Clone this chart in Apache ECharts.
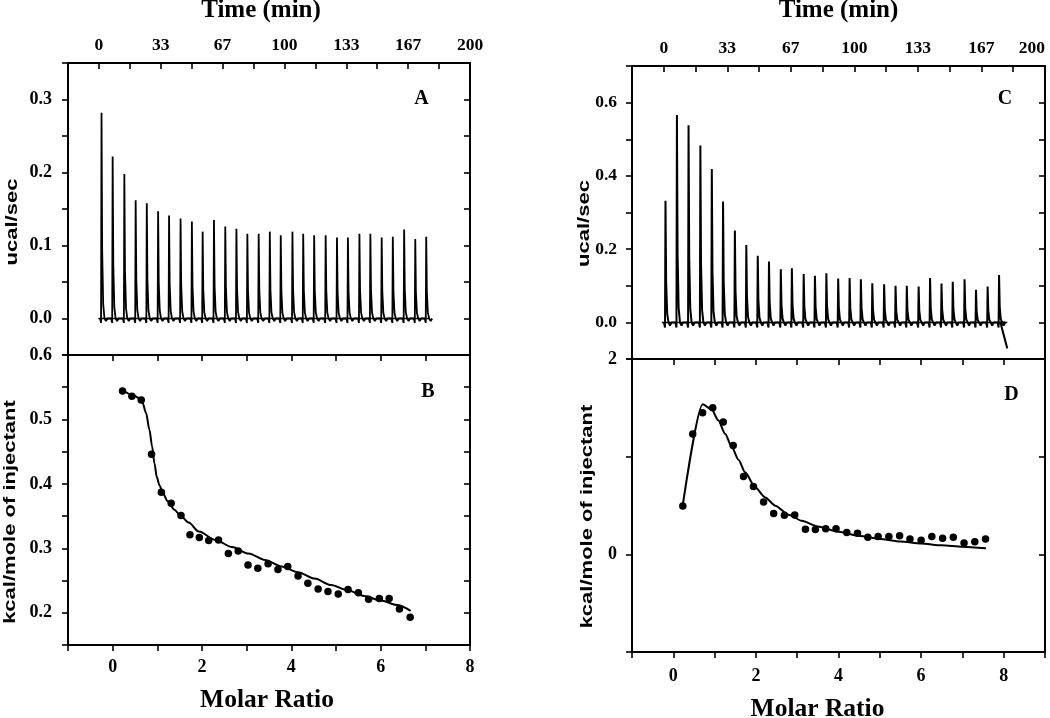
<!DOCTYPE html>
<html>
<head>
<meta charset="utf-8">
<script src="https://cdn.jsdelivr.net/npm/echarts@6/dist/echarts.min.js"></script>
<style>
html,body{margin:0;padding:0;background:#fff;}
#chart{width:1050px;height:718px;}
</style>
</head>
<body>
<div id="chart"></div>
<script>
// ---------- DATA ----------
// Time axis tick labels (min)
const timeTickValues = [0, 100/3, 200/3, 100, 400/3, 500/3, 200];
const timeTickLabels = ['0', '33', '67', '100', '133', '167', '200'];
const molarTickValues = [0, 2, 4, 6, 8];
const aYTickValues = [0, 0.1, 0.2, 0.3];
const bYTickValues = [0.2, 0.3, 0.4, 0.5, 0.6];
const cYTickValues = [0, 0.2, 0.4, 0.6];
const dYTickValues = [0, 2];

// Axis titles
const timeTitle = 'Time (min)';
const molarTitle = 'Molar Ratio';
const powerTitle = 'ucal/sec';
const heatTitle = 'kcal/mole of injectant';
const panelLetters = ['A', 'B', 'C', 'D'];

// Panel A: injection times (min) and peak heights (ucal/sec)
const aInjTimes = [1.4, 7.4, 13.7, 19.8, 25.8, 31.9, 37.8, 44.0, 50.1, 55.9, 62.0, 68.1, 74.1, 80.0, 86.1, 92.1, 98.0, 104.3, 110.1, 116.0, 122.2, 128.3, 134.2, 140.4, 146.3, 152.4, 158.4, 164.5, 170.5, 176.4];
const aPeaks = [0.282, 0.222, 0.198, 0.162, 0.158, 0.147, 0.141, 0.137, 0.133, 0.119, 0.135, 0.126, 0.123, 0.116, 0.116, 0.119, 0.114, 0.119, 0.116, 0.114, 0.114, 0.111, 0.111, 0.116, 0.116, 0.111, 0.112, 0.122, 0.109, 0.112];
const aBaseline = [[-0.3, 0], [178.3, 0]];

// Panel C: injection times (min) and peak heights (ucal/sec)
const cInjTimes = [0.9, 6.9, 13.0, 19.2, 25.2, 31.1, 37.3, 43.3, 49.3, 55.2, 61.4, 67.2, 73.4, 79.3, 85.3, 91.5, 97.5, 103.4, 109.4, 115.6, 121.6, 127.5, 133.7, 139.7, 145.7, 151.6, 157.8, 163.8, 169.9, 175.9];
const cPeaks = [0.332, 0.566, 0.538, 0.483, 0.419, 0.330, 0.251, 0.211, 0.182, 0.166, 0.145, 0.148, 0.132, 0.127, 0.134, 0.120, 0.121, 0.118, 0.107, 0.104, 0.100, 0.100, 0.098, 0.121, 0.106, 0.111, 0.118, 0.089, 0.098, 0.129];
const cTail = [[176.6, 0.0], [180.2, -0.071]];
const cBaseline = [[-1.0, 0], [180.2, 0]];

// Panel B: integrated heats (molar ratio, kcal/mole of injectant)
const bMolar = [0.22, 0.43, 0.64, 0.87, 1.09, 1.31, 1.53, 1.73, 1.94, 2.15, 2.37, 2.59, 2.81, 3.03, 3.25, 3.48, 3.70, 3.92, 4.15, 4.37, 4.60, 4.82, 5.05, 5.27, 5.50, 5.73, 5.97, 6.19, 6.42, 6.66];
const bHeat = [0.544, 0.536, 0.530, 0.446, 0.387, 0.370, 0.351, 0.321, 0.317, 0.312, 0.313, 0.292, 0.296, 0.274, 0.269, 0.276, 0.267, 0.272, 0.257, 0.246, 0.237, 0.233, 0.229, 0.236, 0.231, 0.221, 0.222, 0.222, 0.206, 0.193];
const bFitX = [0.21, 0.45, 0.60, 0.673, 0.748, 0.823, 0.883, 0.935, 0.987, 1.047, 1.121, 1.233, 1.383, 1.50, 1.70, 1.93, 2.30, 2.67, 3.04, 3.41, 3.78, 4.15, 4.52, 4.89, 5.26, 5.63, 6.00, 6.37, 6.67];
const bFitY = [0.546, 0.538, 0.533, 0.525, 0.510, 0.484, 0.458, 0.432, 0.411, 0.398, 0.386, 0.373, 0.360, 0.352, 0.340, 0.326, 0.313, 0.302, 0.292, 0.282, 0.272, 0.263, 0.253, 0.243, 0.235, 0.226, 0.219, 0.212, 0.203];

// Panel D: integrated heats
const dMolar = [0.23, 0.47, 0.71, 0.955, 1.21, 1.45, 1.70, 1.94, 2.186, 2.43, 2.69, 2.94, 3.20, 3.44, 3.69, 3.94, 4.20, 4.46, 4.71, 4.96, 5.22, 5.48, 5.73, 6.00, 6.26, 6.52, 6.78, 7.04, 7.30, 7.56];
const dHeat = [0.494, 1.232, 1.450, 1.500, 1.355, 1.115, 0.798, 0.695, 0.537, 0.419, 0.400, 0.404, 0.256, 0.254, 0.261, 0.261, 0.223, 0.216, 0.175, 0.182, 0.182, 0.189, 0.158, 0.144, 0.182, 0.165, 0.175, 0.117, 0.130, 0.158];
const dFitX = [0.226, 0.711, 0.93, 1.09, 1.255, 1.416, 1.578, 1.74, 1.98, 2.225, 2.47, 2.79, 3.11, 3.50, 4.00, 4.50, 5.00, 5.50, 6.00, 6.50, 7.00, 7.57];
const dFitY = [0.495, 1.537, 1.482, 1.372, 1.235, 1.098, 0.968, 0.840, 0.686, 0.583, 0.498, 0.405, 0.344, 0.285, 0.232, 0.190, 0.158, 0.132, 0.110, 0.092, 0.078, 0.062];

// ---------- helpers ----------
// shape of one injection peak in the raw thermogram: [time offset, fraction of peak, fraction of dip]
const SPIKE_SHAPE = [[-0.8, 0, 0], [-0.25, 0, -1], [0, 1, 0], [0.35, 0.33, 0], [0.9, 0.07, 0], [1.6, 0, 0], [2.4, 0, -0.6], [3.2, 0, 0]];
function buildTrace(times, peaks, dip, tail) {
  const pts = [];
  times.forEach(function (t, i) {
    SPIKE_SHAPE.forEach(function (s) {
      pts.push([t + s[0], peaks[i] * s[1] + dip * s[2]]);
    });
  });
  if (tail) tail.forEach(function (p) { pts.push(p); });
  return pts;
}
function zip(xs, ys) { return xs.map(function (x, i) { return [x, ys[i]]; }); }
function tickFmt(vals, fmt) {
  return function (v) {
    for (let j = 0; j < vals.length; j++) {
      if (Math.abs(vals[j] - v) < 1e-6 * Math.max(1, Math.abs(v))) return fmt(vals[j], j);
    }
    return '';
  };
}
function timeFmt(v) {
  for (let j = 0; j < timeTickValues.length; j++) {
    if (Math.abs(timeTickValues[j] - v) < 0.01) return timeTickLabels[j];
  }
  return '';
}

const SERIF = '"Liberation Serif", "Times New Roman", serif';
const SANS = '"Liberation Sans", Arial, sans-serif';
const LINE = { show: true, onZero: false, lineStyle: { color: '#000', width: 2 } };
const TICK_OUT = { show: true, inside: false, length: 6, lineStyle: { color: '#000', width: 1.6 } };
const TICK_IN = { show: true, inside: true, length: 6, lineStyle: { color: '#000', width: 1.6 } };
const lbl = { color: '#000', fontFamily: SERIF, fontWeight: 'bold', fontSize: 18, hideOverlap: false, showMinLabel: true, showMaxLabel: true };

function ax(o) {
  return Object.assign({
    type: 'value', axisLine: LINE, splitLine: { show: false },
    axisTick: TICK_OUT,
    axisLabel: Object.assign({}, lbl, { show: false }),
    nameMoveOverlap: false
  }, o);
}
function yTitle(text, x, y) {
  return { type: 'text', x: x, y: y, rotation: Math.PI / 2, scaleX: 1, scaleY: 0.72, z: 10,
    style: { text: text, font: 'bold 22px ' + SANS, fill: '#000', align: 'center', verticalAlign: 'middle',
      textAlign: 'center', textVerticalAlign: 'middle' } };
}
function letter(text, x, y) {
  return { type: 'text', x: x, y: y, z: 10,
    style: { text: text, font: 'bold 20px ' + SERIF, fill: '#000', align: 'center', verticalAlign: 'middle',
      textAlign: 'center', textVerticalAlign: 'middle' } };
}

const chart = echarts.init(document.getElementById('chart'), null, { renderer: 'canvas' });
const option = {
  backgroundColor: '#fff',
  animation: false,
  grid: [
    { left: 68, top: 63, width: 402, height: 292, outerBoundsMode: 'none' },
    { left: 68, top: 355, width: 402, height: 290, outerBoundsMode: 'none' },
    { left: 632, top: 66, width: 413, height: 293, outerBoundsMode: 'none' },
    { left: 632, top: 359, width: 413, height: 293, outerBoundsMode: 'none' }
  ],
  xAxis: [
    // 0: A time (top)
    ax({ gridIndex: 0, position: 'top', min: -50 / 3, max: 200, interval: 50 / 3, axisTick: TICK_IN,
      axisLabel: Object.assign({}, lbl, { show: true, fontSize: 17.5, margin: 9, formatter: timeFmt }),
      name: timeTitle, nameLocation: 'middle', nameGap: 40,
      nameTextStyle: { color: '#000', fontFamily: SERIF, fontWeight: 'bold', fontSize: 25, padding: [0, 16, 0, 0] } }),
    // 1: B molar ratio (bottom)
    ax({ gridIndex: 1, position: 'bottom', min: -1, max: 8, interval: 1,
      axisLabel: Object.assign({}, lbl, { show: true, margin: 13, formatter: tickFmt(molarTickValues, function (v) { return String(v); }) }),
      name: molarTitle, nameLocation: 'middle', nameGap: 42,
      nameTextStyle: { color: '#000', fontFamily: SERIF, fontWeight: 'bold', fontSize: 25.5, padding: [0, 4, 0, 0] } }),
    // 2: B top (ticks only)
    ax({ gridIndex: 1, position: 'top', min: -1, max: 8, interval: 1, axisTick: TICK_IN }),
    // 3: C time (top)
    ax({ gridIndex: 2, position: 'top', min: -50 / 3, max: 200, interval: 50 / 3, axisTick: TICK_IN,
      axisLabel: Object.assign({}, lbl, { show: true, fontSize: 17.5, margin: 9, formatter: timeFmt, alignMaxLabel: 'right' }),
      name: timeTitle, nameLocation: 'middle', nameGap: 43,
      nameTextStyle: { color: '#000', fontFamily: SERIF, fontWeight: 'bold', fontSize: 25 } }),
    // 4: D molar ratio (bottom)
    ax({ gridIndex: 3, position: 'bottom', min: -1, max: 9, interval: 1,
      axisLabel: Object.assign({}, lbl, { show: true, margin: 15, formatter: tickFmt(molarTickValues, function (v) { return String(v); }) }),
      name: molarTitle, nameLocation: 'middle', nameGap: 44,
      nameTextStyle: { color: '#000', fontFamily: SERIF, fontWeight: 'bold', fontSize: 25.5, padding: [0, 42, 0, 0] } }),
    // 5: D top (ticks only)
    ax({ gridIndex: 3, position: 'top', min: -1, max: 9, interval: 1, axisTick: TICK_IN })
  ],
  yAxis: [
    // 0: A left
    ax({ gridIndex: 0, position: 'left', min: -0.05, max: 0.35, interval: 0.05,
      axisLabel: Object.assign({}, lbl, { show: true, margin: 16, formatter: tickFmt(aYTickValues, function (v) { return v.toFixed(1); }) }) }),
    // 1: A right
    ax({ gridIndex: 0, position: 'right', min: -0.05, max: 0.35, interval: 0.05, axisTick: TICK_IN }),
    // 2: B left
    ax({ gridIndex: 1, position: 'left', min: 0.15, max: 0.6, interval: 0.05,
      axisLabel: Object.assign({}, lbl, { show: true, margin: 16, formatter: tickFmt(bYTickValues, function (v) { return v.toFixed(1); }) }) }),
    // 3: B right
    ax({ gridIndex: 1, position: 'right', min: 0.15, max: 0.6, interval: 0.05, axisTick: TICK_IN }),
    // 4: C left
    ax({ gridIndex: 2, position: 'left', min: -0.1, max: 0.7, interval: 0.1,
      axisLabel: Object.assign({}, lbl, { show: true, fontSize: 17.5, margin: 15, formatter: tickFmt(cYTickValues, function (v) { return v.toFixed(1); }) }) }),
    // 5: C right
    ax({ gridIndex: 2, position: 'right', min: -0.1, max: 0.7, interval: 0.1, axisTick: TICK_IN }),
    // 6: D left
    ax({ gridIndex: 3, position: 'left', min: -1, max: 2, interval: 1,
      axisLabel: Object.assign({}, lbl, { show: true, margin: 15, formatter: tickFmt(dYTickValues, function (v) { return String(v); }) }) }),
    // 7: D right
    ax({ gridIndex: 3, position: 'right', min: -1, max: 2, interval: 1, axisTick: TICK_IN })
  ],
  graphic: [
    yTitle(powerTitle, 12.5, 222),
    yTitle(heatTitle, 10.5, 512),
    yTitle(powerTitle, 584.5, 223.5),
    yTitle(heatTitle, 588, 516.5),
    letter(panelLetters[0], 421.5, 99),
    letter(panelLetters[1], 428, 391.5),
    letter(panelLetters[2], 1005, 98.5),
    letter(panelLetters[3], 1011.5, 395)
  ],
  series: [
    { name: 'A thermogram', type: 'line', xAxisIndex: 0, yAxisIndex: 0, data: buildTrace(aInjTimes, aPeaks, 0.006),
      showSymbol: false, symbol: 'none', lineStyle: { color: '#000', width: 1.8 }, z: 3 },
    { name: 'A baseline', type: 'line', xAxisIndex: 0, yAxisIndex: 0, data: aBaseline,
      showSymbol: false, symbol: 'none', lineStyle: { color: '#000', width: 1.5 }, z: 2 },
    { name: 'B data', type: 'scatter', xAxisIndex: 1, yAxisIndex: 2, data: zip(bMolar, bHeat),
      symbol: 'circle', symbolSize: 7.5, itemStyle: { color: '#000', opacity: 1 }, z: 4 },
    { name: 'B fit', type: 'line', xAxisIndex: 1, yAxisIndex: 2, data: zip(bFitX, bFitY),
      smooth: 0.3, smoothMonotone: 'x', showSymbol: false, symbol: 'none', lineStyle: { color: '#000', width: 2 }, z: 3 },
    { name: 'C thermogram', type: 'line', xAxisIndex: 3, yAxisIndex: 4, data: buildTrace(cInjTimes, cPeaks, 0.014, cTail),
      showSymbol: false, symbol: 'none', lineStyle: { color: '#000', width: 2 }, z: 3 },
    { name: 'C baseline', type: 'line', xAxisIndex: 3, yAxisIndex: 4, data: cBaseline,
      showSymbol: false, symbol: 'none', lineStyle: { color: '#000', width: 1.5 }, z: 2 },
    { name: 'D data', type: 'scatter', xAxisIndex: 4, yAxisIndex: 6, data: zip(dMolar, dHeat),
      symbol: 'circle', symbolSize: 7.5, itemStyle: { color: '#000', opacity: 1 }, z: 4 },
    { name: 'D fit', type: 'line', xAxisIndex: 4, yAxisIndex: 6, data: zip(dFitX, dFitY),
      smooth: 0.25, smoothMonotone: 'x', showSymbol: false, symbol: 'none', lineStyle: { color: '#000', width: 2 }, z: 3 }
  ]
};
chart.setOption(option);
</script>
</body>
</html>
